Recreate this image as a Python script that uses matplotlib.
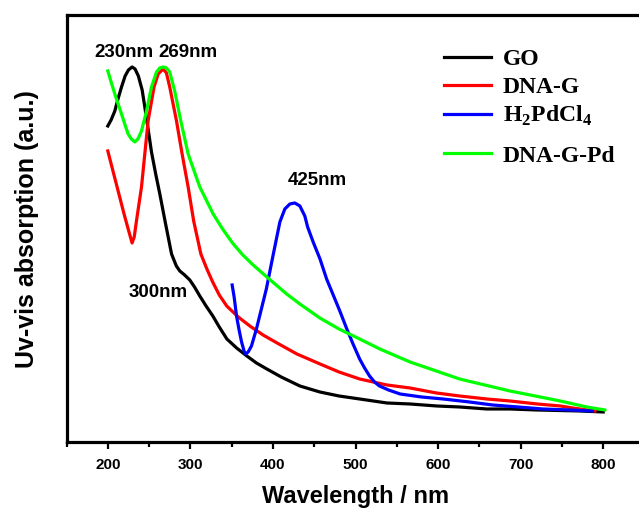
import matplotlib
matplotlib.use("Agg")
import matplotlib.pyplot as plt
from matplotlib.ticker import MultipleLocator

plt.rcParams['font.family'] = ['Liberation Sans', 'DejaVu Sans']
plt.rcParams['font.weight'] = 'bold'

# GO
go_wl = [200, 204, 208.5, 212, 216.6, 221, 225, 229.4, 233, 237, 241.6, 244.8, 249, 252.9,
         258, 263, 270, 277.2, 283, 287.2, 293, 299.3, 305, 311.4, 319, 327.2, 335, 344.2,
         356, 368.4, 380, 392.6, 410, 432.6, 456.8, 480, 505, 538, 566, 598.5, 626, 659,
         687, 719.7, 771.8, 800]
go_abs = [3.16, 3.22, 3.31, 3.42, 3.55, 3.66, 3.72, 3.75, 3.73, 3.66, 3.52, 3.35, 3.12, 2.90,
          2.68, 2.48, 2.18, 1.88, 1.76, 1.71, 1.67, 1.62, 1.55, 1.46, 1.36, 1.26, 1.15, 1.03,
          0.94, 0.86, 0.79, 0.73, 0.65, 0.56, 0.50, 0.46, 0.43, 0.39, 0.38, 0.36, 0.35, 0.33,
          0.33, 0.32, 0.31, 0.30]

# DNA-G
dnag_wl = [200, 205, 210, 215, 220, 225, 229.4, 232, 234.7, 240.8, 244.8, 248.8, 256, 261,
           267, 271, 275, 283.2, 290, 297.3, 304, 312.7, 320, 327, 335, 344, 358, 372, 388,
           405, 429, 457, 480, 505, 538, 566, 598, 626, 659, 687, 720, 748, 763, 790]
dnag_abs = [2.91, 2.75, 2.59, 2.43, 2.27, 2.12, 1.99, 2.05, 2.21, 2.55, 2.88, 3.21, 3.55, 3.68,
            3.73, 3.69, 3.55, 3.21, 2.88, 2.55, 2.21, 1.88, 1.73, 1.60, 1.47, 1.36, 1.25, 1.16,
            1.07, 0.99, 0.88, 0.78, 0.70, 0.63, 0.57, 0.54, 0.49, 0.46, 0.43, 0.41, 0.38, 0.36,
            0.34, 0.31]

# H2PdCl4
pd_wl = [350.6, 353, 355.9, 359, 362, 365, 367, 370, 374, 380, 386, 392, 400, 408.4, 414.4,
         420.5, 426.5, 432.6, 438.6, 442, 448.7, 457, 465, 473, 481, 489, 497, 505, 511, 517,
         523, 529, 540, 554, 580, 606, 638, 666, 697, 727, 760, 787]
pd_abs = [1.57, 1.45, 1.26, 1.12, 1.00, 0.91, 0.88, 0.90, 0.96, 1.13, 1.33, 1.53, 1.86, 2.20,
          2.33, 2.38, 2.39, 2.36, 2.26, 2.15, 2.00, 1.83, 1.63, 1.47, 1.31, 1.14, 0.98, 0.83,
          0.74, 0.66, 0.60, 0.56, 0.52, 0.48, 0.45, 0.43, 0.40, 0.37, 0.35, 0.33, 0.32, 0.31]

# DNA-G-Pd
dnagpd_wl = [200, 204, 208.5, 212.5, 216.6, 220.5, 224.6, 228.5, 232.7, 236.5, 240.8, 246.9,
             252.9, 259, 263, 267, 271, 275, 281, 288.4, 297.3, 311.4, 327.6, 339, 351, 363.5,
             376, 392.6, 416.6, 432.6, 456.8, 480, 505, 529.5, 566, 626, 687, 748, 780, 802]
dnagpd_abs = [3.71, 3.60, 3.48, 3.38, 3.28, 3.18, 3.08, 3.03, 3.00, 3.03, 3.11, 3.31,
              3.55, 3.70, 3.74, 3.75, 3.74, 3.70, 3.51, 3.21, 2.88, 2.55, 2.28, 2.13, 1.99, 1.87,
              1.77, 1.65, 1.48, 1.38, 1.24, 1.13, 1.03, 0.93, 0.80, 0.63, 0.51, 0.41, 0.35, 0.32]

names = ['GO', 'DNA-G', r'H$_\mathregular{2}$PdCl$_\mathregular{4}$', 'DNA-G-Pd']
colors = ['#000000', '#ff0000', '#0000ff', '#00ff00']
wls = [go_wl, dnag_wl, pd_wl, dnagpd_wl]
absorb = [go_abs, dnag_abs, pd_abs, dnagpd_abs]

# peak labels: text, wavelength, height
peak_text = ['230nm', '269nm', '300nm', '425nm']
peak_wl = [219.4, 297.3, 260.6, 453.2]
peak_y = [3.86, 3.86, 1.46, 2.58]

fig = plt.figure(figsize=(6.39, 5.10), dpi=100)
ax = fig.add_axes([0.1041, 0.1314, 0.9045, 0.8373])

for wl, ab, c in zip(wls, absorb, colors):
    ax.plot(wl, ab, color=c, lw=2.3)

for t, x, y in zip(peak_text, peak_wl, peak_y):
    ax.text(x, y, t, ha='center', va='baseline', fontsize=13.5, fontweight='bold')

# key, placed by hand so the rows keep their uneven spacing
key_line_y = [0.9016, 0.836, 0.7675, 0.676]
key_text_y = [0.885, 0.8197, 0.7518, 0.658]
for name, c, ly, ty in zip(names, colors, key_line_y, key_text_y):
    ax.plot([0.653, 0.7344], [ly, ly], color=c, lw=2.3, transform=ax.transAxes)
    ax.text(0.7552, ty, name, transform=ax.transAxes, va='baseline', ha='left',
            family='Liberation Serif', fontweight='bold', fontsize=17)

ax.set_xlim(150, 850)
ax.set_ylim(0, 4.27)
ax.xaxis.set_major_locator(MultipleLocator(100))
ax.xaxis.set_minor_locator(MultipleLocator(50))
ax.set_yticks([])
ax.tick_params(axis='x', which='major', direction='out', length=5, width=1.6,
               labelsize=11, pad=6)
ax.tick_params(axis='x', which='minor', direction='out', length=3.5, width=1.6)
for s in ax.spines.values():
    s.set_linewidth(2.3)

ax.set_xlabel('Wavelength / nm', fontsize=17, fontweight='bold', labelpad=9)
ax.set_ylabel('Uv-vis absorption (a.u.)', fontsize=18, fontweight='bold', labelpad=20)

fig.savefig('out.png', dpi=100)
